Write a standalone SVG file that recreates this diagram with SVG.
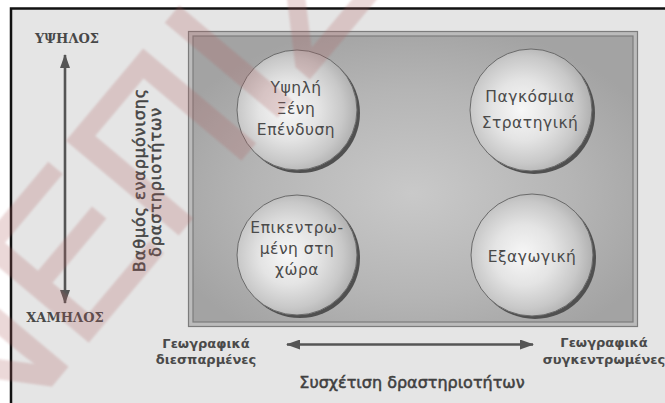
<svg xmlns="http://www.w3.org/2000/svg" width="665" height="403" viewBox="0 0 665 403">
  <defs>
    <radialGradient id="panelFill" cx="0.5" cy="0.55" r="0.6">
      <stop offset="0" stop-color="#c9c9c9"/>
      <stop offset="0.6" stop-color="#b5b5b5"/>
      <stop offset="1" stop-color="#a3a3a3"/>
    </radialGradient>
    <radialGradient id="ballFill" cx="0.45" cy="0.5" r="0.55" fx="0.42" fy="0.5">
      <stop offset="0" stop-color="#f7f7f7"/>
      <stop offset="0.45" stop-color="#e4e4e4"/>
      <stop offset="0.8" stop-color="#c8c8c8"/>
      <stop offset="1" stop-color="#b0b0b0"/>
    </radialGradient>
    <marker id="head" viewBox="0 0 14 10" refX="13" refY="5" markerWidth="14" markerHeight="10" markerUnits="userSpaceOnUse" orient="auto-start-reverse">
      <path d="M0,0 L14,5 L0,10 Z" fill="#555"/>
    </marker>
    <filter id="soft" x="-5%" y="-5%" width="110%" height="110%">
      <feGaussianBlur stdDeviation="1"/>
    </filter>
  </defs>
  <style>
    .axis { stroke: #555; stroke-width: 2.6; fill: none; }
    .ball { fill: url(#ballFill); stroke: #6a6a6a; stroke-width: 1; }
    .shade { fill: #505050; }
    .in { font-family: "DejaVu Sans", "Noto Sans", sans-serif; font-size: 15.5px; letter-spacing: 0.5px; fill: #4a4a4a; text-anchor: middle; }
    .lab { font-family: "DejaVu Sans", "Noto Sans", sans-serif; font-size: 13px; font-weight: bold; fill: #4a4a4a; text-anchor: middle; }
    .side { font-family: "DejaVu Sans", "Noto Sans", sans-serif; font-size: 16px; letter-spacing: 0.9px; fill: #444; stroke: #444; stroke-width: 0.5; text-anchor: middle; }
    .cap { font-family: "DejaVu Serif", "Liberation Serif", serif; font-size: 13px; font-weight: bold; fill: #484848; text-anchor: middle; }
    .title { font-family: "DejaVu Sans", "Noto Sans", sans-serif; font-size: 16px; fill: #404040; stroke: #404040; stroke-width: 0.5; text-anchor: middle; }
    .stamp { font-family: "Liberation Sans", sans-serif; font-size: 210px; fill: #b06060; stroke: #b06060; stroke-width: 3; }
  </style>

  <!-- page -->
  <rect x="0" y="0" width="665" height="403" fill="#ffffff"/>
  <rect x="11" y="8.5" width="660" height="400" fill="#e5e5e5"/>
  <path d="M11,403 V8.5 H665" fill="none" stroke="#111" stroke-width="2.5"/>

  <!-- panel with double border -->
  <g id="panel">
    <rect x="188.5" y="31.5" width="449" height="295" fill="#bbbbbb" stroke="#7c7c7c" stroke-width="1.2"/>
    <rect x="193" y="36" width="440" height="286" fill="url(#panelFill)" stroke="#7c7c7c" stroke-width="1.2"/>
  </g>

  <!-- connectors -->
  <g id="connectors">
    <line class="axis" x1="65" y1="303" x2="65" y2="55" marker-start="url(#head)" marker-end="url(#head)"/>
    <line class="axis" x1="287" y1="344.5" x2="533" y2="344.5" marker-start="url(#head)" marker-end="url(#head)"/>
  </g>

  <g id="node-high-fdi">
    <circle class="shade" cx="300" cy="113" r="60"/>
    <circle class="ball" cx="297" cy="110" r="60"/>
    <text class="in" x="296" y="93">Υψηλή</text>
    <text class="in" x="296" y="114">Ξένη</text>
    <text class="in" x="296" y="135">Επένδυση</text>
  </g>
  <g id="node-global">
    <circle class="shade" cx="534" cy="113" r="61"/>
    <circle class="ball" cx="531" cy="110" r="61"/>
    <text class="in" x="530" y="102">Παγκόσμια</text>
    <text class="in" x="530" y="128">Στρατηγική</text>
  </g>
  <g id="node-country">
    <circle class="shade" cx="300" cy="258" r="60"/>
    <circle class="ball" cx="297" cy="255" r="60"/>
    <text class="in" x="297" y="233">Επικεντρω-</text>
    <text class="in" x="297" y="254">μένη στη</text>
    <text class="in" x="297" y="275">χώρα</text>
  </g>
  <g id="node-export">
    <circle class="shade" cx="535" cy="258" r="61"/>
    <circle class="ball" cx="532" cy="255" r="61"/>
    <text class="in" x="532" y="262">Εξαγωγική</text>
  </g>

  <!-- axis labels -->
  <g id="labels">
    <text class="cap" x="67" y="43">ΥΨΗΛΟΣ</text>
    <text class="cap" x="65" y="322">ΧΑΜΗΛΟΣ</text>
    <text class="side" transform="translate(145,180) rotate(-90)">Βαθμός εναρμόνισης</text>
    <text class="side" transform="translate(161,182) rotate(-90)">δραστηριοτήτων</text>
    <text class="lab" x="206" y="348">Γεωγραφικά</text>
    <text class="lab" x="206" y="364">διεσπαρμένες</text>
    <text class="lab" x="604" y="347">Γεωγραφικά</text>
    <text class="lab" x="604" y="364">συγκεντρωμένες</text>
    <text class="title" x="412" y="388">Συσχέτιση δραστηριοτήτων</text>
  </g>

  <!-- publisher stamp across the page -->
  <g id="stamp" filter="url(#soft)" opacity="0.24">
    <text class="stamp" transform="translate(-20,470) rotate(-50)">ΝΕΠΙΣΤ</text>
  </g>
</svg>
